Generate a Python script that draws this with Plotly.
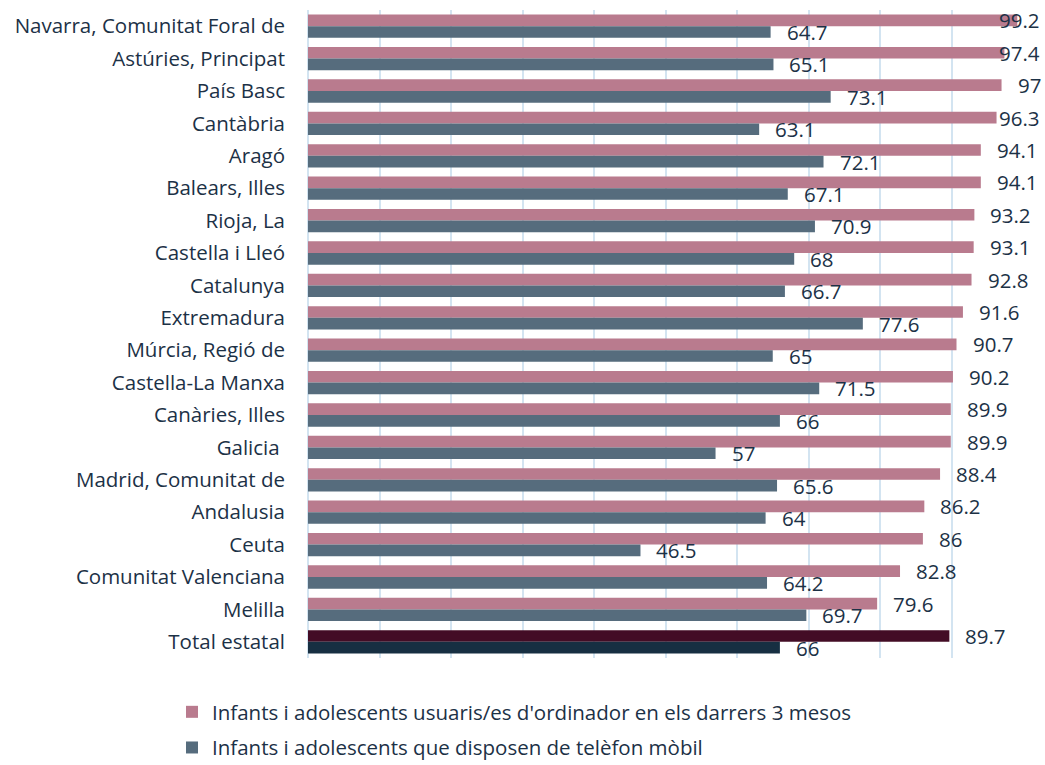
import plotly.graph_objects as go

categories = ["Navarra, Comunitat Foral de", "Astúries, Principat", "País Basc", "Cantàbria",
              "Aragó", "Balears, Illes", "Rioja, La", "Castella i Lleó", "Catalunya",
              "Extremadura", "Múrcia, Regió de", "Castella-La Manxa", "Canàries, Illes",
              "Galicia ", "Madrid, Comunitat de", "Andalusia", "Ceuta",
              "Comunitat Valenciana", "Melilla", "Total estatal"]
ordinador = [99.2, 97.4, 97, 96.3, 94.1, 94.1, 93.2, 93.1, 92.8, 91.6, 90.7, 90.2, 89.9,
             89.9, 88.4, 86.2, 86, 82.8, 79.6, 89.7]
mobil = [64.7, 65.1, 73.1, 63.1, 72.1, 67.1, 70.9, 68, 66.7, 77.6, 65, 71.5, 66, 57,
         65.6, 64, 46.5, 64.2, 69.7, 66]
series_names = ["Infants i adolescents usuaris/es d'ordinador en els darrers 3 mesos",
                "Infants i adolescents que disposen de telèfon mòbil"]

PINK = "#b97b8e"
BLUE = "#566c7d"
PINK_TOTAL = "#430c25"
BLUE_TOTAL = "#172f42"
TXT = "#1c3146"
FONT = "Open Sans"
FS = 20.5

W, H = 1045, 765
L, R, T, B = 308, 22, 10, 107
XMAX = 100
px_per_unit = (W - L - R) / XMAX
band = (H - T - B) / len(categories)
bargap = 0.28
bar_px = band * (1 - bargap) / 2

pink_colors = [PINK] * (len(categories) - 1) + [PINK_TOTAL]
blue_colors = [BLUE] * (len(categories) - 1) + [BLUE_TOTAL]

fig = go.Figure()
fig.add_trace(go.Bar(y=categories, x=ordinador, orientation="h", name=series_names[0],
                     marker=dict(color=pink_colors, line=dict(width=0)), legendgroup="a"))
fig.add_trace(go.Bar(y=categories, x=mobil, orientation="h", name=series_names[1],
                     marker=dict(color=blue_colors, line=dict(width=0)), legendgroup="b"))


def label_width(s):
    return sum(5.5 if c == "." else 11.7 for c in s)


annotations = []
for vals, shift in ((ordinador, bar_px / 2), (mobil, -bar_px / 2)):
    for cat, v in zip(categories, vals):
        s = f"{v:g}"
        end_px = L + v * px_per_unit + 16 + label_width(s)
        if end_px > W - 4:
            annotations.append(dict(x=XMAX, y=cat, text=s, showarrow=False, xanchor="right",
                                    xshift=19, yshift=shift,
                                    font=dict(family=FONT, size=FS, color=TXT)))
        else:
            annotations.append(dict(x=v, y=cat, text=s, showarrow=False, xanchor="left",
                                    xshift=14, yshift=shift,
                                    font=dict(family=FONT, size=FS, color=TXT)))

fig.update_layout(
    width=W, height=H,
    margin=dict(l=L, r=R, t=T, b=B, autoexpand=False),
    plot_bgcolor="white", paper_bgcolor="white",
    barmode="group", bargap=bargap, bargroupgap=0,
    font=dict(family=FONT, size=FS, color=TXT),
    annotations=annotations,
    showlegend=True,
    legend=dict(orientation="v", xref="container", yref="container",
                x=172 / W, y=1 - 692 / H, xanchor="left", yanchor="top",
                tracegroupgap=6, itemwidth=30,
                font=dict(family=FONT, size=FS, color=TXT), bgcolor="rgba(0,0,0,0)"),
    xaxis=dict(range=[0, XMAX], dtick=10, showticklabels=False, showgrid=True,
               gridcolor="#d3e4f1", gridwidth=2, zeroline=True, zerolinecolor="#d3e4f1",
               zerolinewidth=2, showline=False, ticks="", automargin=False),
    yaxis=dict(range=[len(categories) - 0.5, -0.5], showgrid=False, showline=False, ticks="",
               automargin=False, ticklabelstandoff=22,
               tickfont=dict(family=FONT, size=FS, color=TXT)),
)

fig.write_html("out.html", config={"displayModeBar": False},
               post_script="document.body.style.margin='0';document.body.style.overflow='hidden';")
